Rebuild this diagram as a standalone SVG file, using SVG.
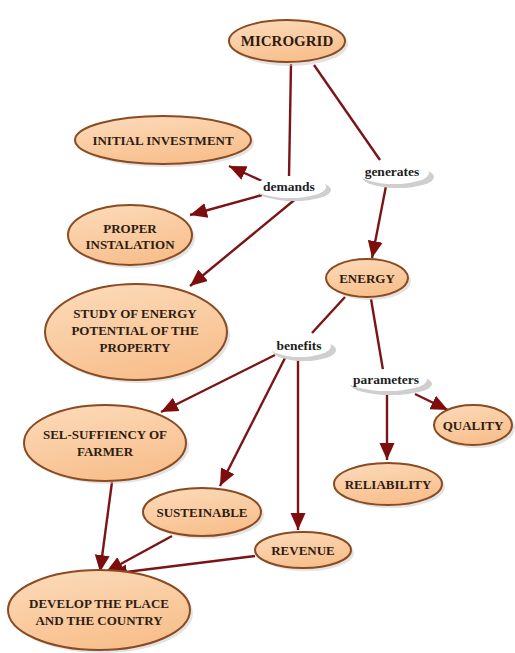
<svg xmlns="http://www.w3.org/2000/svg" width="515" height="653" viewBox="0 0 515 653">
<defs>
<linearGradient id="nodeFill" x1="0" y1="0" x2="0.4" y2="1">
<stop offset="0" stop-color="#fcdcbc"/>
<stop offset="1" stop-color="#f8c08e"/>
</linearGradient>
<marker id="arrow" markerUnits="userSpaceOnUse" markerWidth="20" markerHeight="18" refX="17" refY="9" orient="auto">
<path d="M0,1.5 L17,9 L0,16.5 Z" fill="#7e0d0d"/>
</marker>
</defs>
<style>
.node ellipse.shape{fill:url(#nodeFill);stroke:#8a4a22;stroke-width:2}
.node ellipse.shadow{fill:#c8c8c8;opacity:0.5}
.node text{font-family:"Liberation Serif","DejaVu Serif",serif;font-weight:bold;font-size:13px;fill:#2e1c12;text-anchor:middle}
.label ellipse.shadow{fill:#cfcfcf}
.label ellipse.shape{fill:#ffffff}
.label text{font-family:"Liberation Serif","DejaVu Serif",serif;font-weight:bold;font-size:13.5px;fill:#1e1e1e;text-anchor:middle}
.conn path{fill:none;stroke:#7b1416;stroke-width:2.4}
.conn path.arr{marker-end:url(#arrow)}
</style>
<rect width="515" height="653" fill="#ffffff"/>

<g id="connectors" class="conn">
<path d="M291,64 L289,177"/>
<path d="M314,65 L380,160"/>
<path class="arr" d="M262,181 L229,166"/>
<path class="arr" d="M262,195 L190,215"/>
<path class="arr" d="M298,197 L190,286"/>
<path class="arr" d="M386,186 L372,258"/>
<path d="M345,297 L312,333"/>
<path d="M371,299 L383,370"/>
<path class="arr" d="M275,355 L161,412"/>
<path class="arr" d="M285,358 L220,486"/>
<path class="arr" d="M298,360 L298,530"/>
<path class="arr" d="M415,394 L448,410"/>
<path class="arr" d="M387,394 L387,460"/>
<path class="arr" d="M112,482 L100,572"/>
<path class="arr" d="M172,536 L106,572"/>
<path class="arr" d="M255,556 L110,574"/>
</g>

<g id="microgrid" class="node">
<ellipse class="shadow" cx="290" cy="44" rx="58" ry="22"/>
<ellipse class="shape" cx="287" cy="41" rx="58" ry="21"/>
<text x="287" y="46" style="font-size:15px">MICROGRID</text>
</g>

<g id="demands" class="label">
<ellipse class="shadow" cx="294" cy="190" rx="37" ry="11"/>
<ellipse class="shape" cx="290" cy="187" rx="36" ry="11"/>
<text x="289" y="191">demands</text>
</g>

<g id="generates" class="label">
<ellipse class="shadow" cx="398" cy="177" rx="36" ry="11"/>
<ellipse class="shape" cx="394" cy="173" rx="35" ry="11"/>
<text x="392" y="176">generates</text>
</g>

<g id="initial-investment" class="node">
<ellipse class="shadow" cx="166" cy="143" rx="88" ry="24"/>
<ellipse class="shape" cx="163" cy="140" rx="88" ry="24"/>
<text x="163" y="145">INITIAL INVESTMENT</text>
</g>

<g id="proper-instalation" class="node">
<ellipse class="shadow" cx="133" cy="238" rx="62" ry="30"/>
<ellipse class="shape" cx="130" cy="235" rx="62" ry="30"/>
<text x="130" y="233">PROPER</text>
<text x="130" y="249">INSTALATION</text>
</g>

<g id="study-energy" class="node">
<ellipse class="shadow" cx="139" cy="335" rx="91" ry="48"/>
<ellipse class="shape" cx="136" cy="332" rx="91" ry="48"/>
<text x="135" y="318">STUDY OF ENERGY</text>
<text x="135" y="335">POTENTIAL OF THE</text>
<text x="135" y="352">PROPERTY</text>
</g>

<g id="energy" class="node">
<ellipse class="shadow" cx="370" cy="281" rx="41" ry="19"/>
<ellipse class="shape" cx="367" cy="278" rx="41" ry="19"/>
<text x="367" y="283">ENERGY</text>
</g>

<g id="benefits" class="label">
<ellipse class="shadow" cx="304" cy="350" rx="32" ry="11"/>
<ellipse class="shape" cx="300" cy="346" rx="31" ry="11"/>
<text x="299" y="350">benefits</text>
</g>

<g id="parameters" class="label">
<ellipse class="shadow" cx="391" cy="384" rx="41" ry="11"/>
<ellipse class="shape" cx="387" cy="380" rx="40" ry="11"/>
<text x="386" y="384">parameters</text>
</g>

<g id="quality" class="node">
<ellipse class="shadow" cx="476" cy="428" rx="39" ry="20"/>
<ellipse class="shape" cx="473" cy="425" rx="39" ry="20"/>
<text x="473" y="430">QUALITY</text>
</g>

<g id="reliability" class="node">
<ellipse class="shadow" cx="391" cy="487" rx="54" ry="21"/>
<ellipse class="shape" cx="388" cy="484" rx="54" ry="21"/>
<text x="388" y="489">RELIABILITY</text>
</g>

<g id="sel-suffiency" class="node">
<ellipse class="shadow" cx="108" cy="446" rx="81" ry="38"/>
<ellipse class="shape" cx="105" cy="443" rx="81" ry="38"/>
<text x="105" y="439">SEL-SUFFIENCY OF</text>
<text x="105" y="456">FARMER</text>
</g>

<g id="susteinable" class="node">
<ellipse class="shadow" cx="205" cy="515" rx="59" ry="24"/>
<ellipse class="shape" cx="202" cy="512" rx="59" ry="24"/>
<text x="202" y="517">SUSTEINABLE</text>
</g>

<g id="revenue" class="node">
<ellipse class="shadow" cx="306" cy="553" rx="48" ry="18"/>
<ellipse class="shape" cx="303" cy="550" rx="48" ry="18"/>
<text x="303" y="555">REVENUE</text>
</g>

<g id="develop" class="node">
<ellipse class="shadow" cx="102" cy="613" rx="91" ry="40"/>
<ellipse class="shape" cx="99" cy="610" rx="91" ry="40"/>
<text x="99" y="608">DEVELOP THE PLACE</text>
<text x="99" y="625">AND THE COUNTRY</text>
</g>
</svg>
